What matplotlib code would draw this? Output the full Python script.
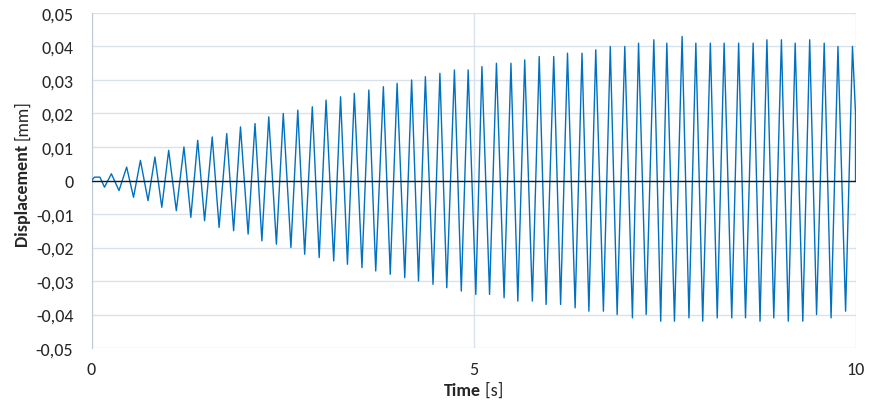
import matplotlib
matplotlib.use('Agg')
import matplotlib.pyplot as plt
from matplotlib.ticker import FuncFormatter, MultipleLocator

# turning points of the displacement signal
time_s = [0.00, 0.04, 0.11, 0.17, 0.26, 0.36, 0.46, 0.55, 0.64, 0.74,
          0.83, 0.92, 1.01, 1.11, 1.21, 1.30, 1.39, 1.48, 1.58, 1.67,
          1.77, 1.86, 1.95, 2.05, 2.14, 2.23, 2.32, 2.42, 2.51, 2.61,
          2.70, 2.79, 2.89, 2.98, 3.07, 3.17, 3.26, 3.35, 3.44, 3.54,
          3.63, 3.72, 3.82, 3.91, 4.00, 4.10, 4.19, 4.28, 4.37, 4.47,
          4.56, 4.65, 4.75, 4.84, 4.93, 5.03, 5.11, 5.21, 5.30, 5.40,
          5.49, 5.58, 5.67, 5.77, 5.86, 5.95, 6.05, 6.14, 6.23, 6.33,
          6.42, 6.51, 6.60, 6.70, 6.79, 6.88, 6.98, 7.08, 7.16, 7.26,
          7.36, 7.45, 7.53, 7.63, 7.73, 7.82, 7.91, 8.00, 8.10, 8.19,
          8.28, 8.38, 8.47, 8.56, 8.66, 8.75, 8.84, 8.93, 9.03, 9.12,
          9.21, 9.31, 9.40, 9.49, 9.59, 9.68, 9.77, 9.87, 9.96, 10.0,
          10.0]
disp_mm = [0.000, 0.001, 0.001, -0.002, 0.002, -0.003, 0.004, -0.005, 0.006, -0.006,
           0.007, -0.008, 0.009, -0.009, 0.010, -0.011, 0.012, -0.012, 0.013, -0.014,
           0.014, -0.015, 0.016, -0.016, 0.017, -0.018, 0.019, -0.019, 0.020, -0.020,
           0.021, -0.022, 0.022, -0.023, 0.024, -0.024, 0.025, -0.025, 0.026, -0.026,
           0.027, -0.027, 0.028, -0.028, 0.029, -0.029, 0.030, -0.030, 0.031, -0.031,
           0.032, -0.032, 0.033, -0.033, 0.033, -0.034, 0.034, -0.034, 0.035, -0.035,
           0.035, -0.036, 0.036, -0.036, 0.037, -0.037, 0.037, -0.037, 0.038, -0.038,
           0.038, -0.039, 0.039, -0.039, 0.040, -0.040, 0.040, -0.041, 0.041, -0.040,
           0.042, -0.042, 0.041, -0.042, 0.043, -0.041, 0.041, -0.042, 0.041, -0.041,
           0.041, -0.041, 0.041, -0.041, 0.041, -0.042, 0.042, -0.041, 0.042, -0.042,
           0.041, -0.042, 0.042, -0.040, 0.041, -0.041, 0.040, -0.039, 0.040, 0.020,
           0.000]

x_ticks = [0, 5, 10]

plt.rcParams['font.family'] = ['Carlito', 'Lato', 'DejaVu Sans']
grid_col = '#D9E1EA'
txt_col = '#262626'

fig = plt.figure(figsize=(8.69, 4.02), dpi=100)
ax = fig.add_axes([0.1053, 0.1318, 0.8792, 0.8334])

ax.plot(time_s, disp_mm, color='#0070C0', lw=1.0, zorder=3)
ax.axhline(0, color='#1a1a1a', lw=1.0, zorder=4)

ax.set_xlim(0, 10)
ax.set_ylim(-0.05, 0.05)
ax.set_xticks(x_ticks)
ax.yaxis.set_major_locator(MultipleLocator(0.01))


def comma_fmt(v, pos):
    if abs(v) < 1e-9:
        return '0'
    return '{:.2f}'.format(v).replace('.', ',')


ax.yaxis.set_major_formatter(FuncFormatter(comma_fmt))
ax.xaxis.set_major_formatter(FuncFormatter(lambda v, p: '{:g}'.format(v)))
ax.grid(True, color=grid_col, lw=1.0, zorder=0)
ax.tick_params(length=0, labelsize=13, colors=txt_col)
ax.tick_params(axis='y', pad=13)
ax.tick_params(axis='x', pad=9)
for s in ('top', 'bottom', 'right'):
    ax.spines[s].set_visible(False)
ax.spines['left'].set_color('#BFCAD6')

# y label: bold word followed by plain unit
yl = ax.text(-0.091, 0.46, 'Displacement', rotation=90, fontsize=13,
             fontweight='bold', ha='center', va='center', color=txt_col,
             transform=ax.transAxes)
fig.canvas.draw()
ax.annotate('[mm]', xy=(0.5, 1.0), xycoords=yl, xytext=(0, 3),
            textcoords='offset points', rotation=90, fontsize=13,
            ha='center', va='bottom', color=txt_col)

xl = ax.text(0.485, -0.125, 'Time', fontsize=13, fontweight='bold',
             ha='center', va='center', color=txt_col, transform=ax.transAxes)
ax.annotate(' [s]', xy=(1.0, 0.5), xycoords=xl, fontsize=13,
            ha='left', va='center', color=txt_col)

plt.savefig('out.png', dpi=100)
